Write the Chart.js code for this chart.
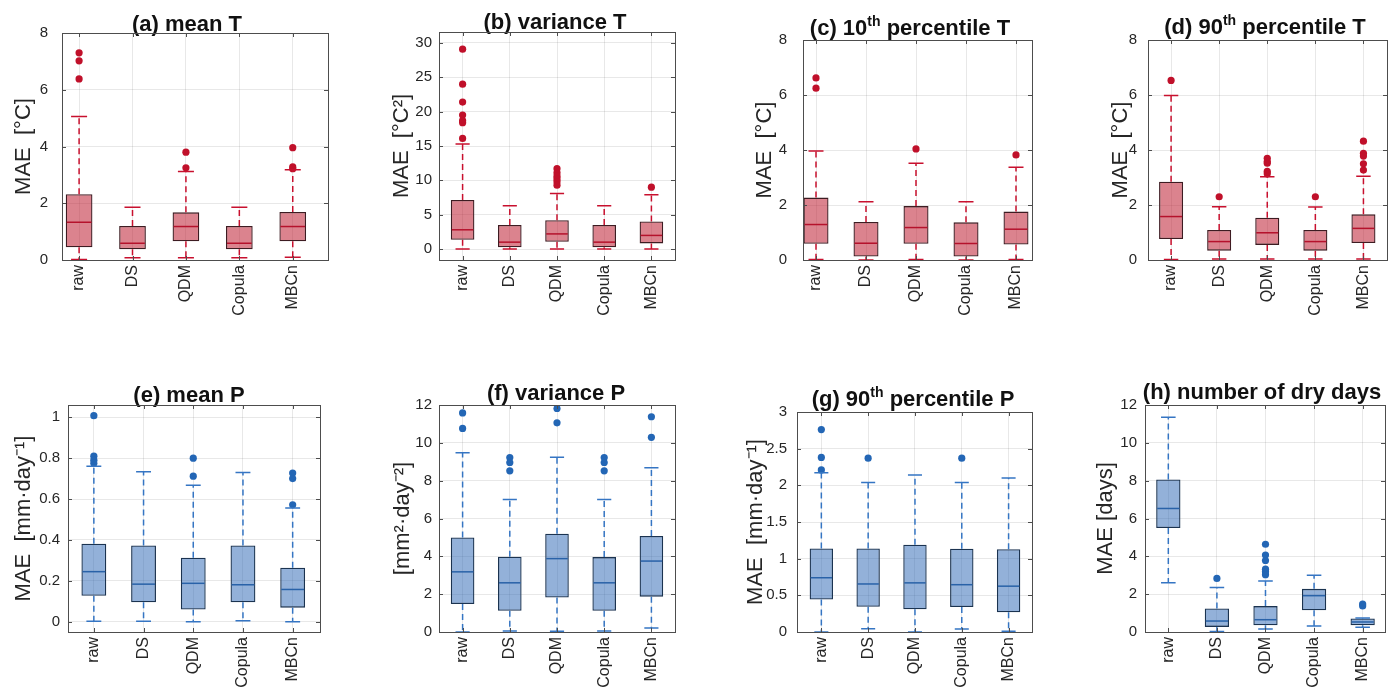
<!DOCTYPE html>
<html>
<head>
<meta charset="utf-8">
<title>MAE of bias-corrected statistics</title>
<script src="https://cdn.jsdelivr.net/npm/chart.js@4"></script>
<style>
  body { margin: 0; background: #fff; width: 1400px; height: 689px; position: relative; overflow: hidden; }
  canvas { position: absolute; }
</style>
</head>
<body>
<script>
// Methods on the x axis of every panel
var methods = ['raw', 'DS', 'QDM', 'Copula', 'MBCn'];
var xTicks = [1, 2, 3, 4, 5];

// (a) mean T : whisker ends, quartiles, medians and outliers
var meanT_lo  = [0.02, 0.08, 0.08, 0.08, 0.10];
var meanT_q1  = [0.45, 0.38, 0.66, 0.38, 0.66];
var meanT_med = [1.33, 0.59, 1.18, 0.59, 1.18];
var meanT_q3  = [2.32, 1.20, 1.68, 1.20, 1.69];
var meanT_hi  = [5.06, 1.86, 3.12, 1.86, 3.18];
var meanT_out = [[7.30, 7.02, 6.38], [], [3.80, 3.25], [], [3.96, 3.28, 3.22]];
var meanT_ticks = [0, 2, 4, 6, 8];

// (b) variance T
var varT_lo  = [0, 0, 0, 0, 0];
var varT_q1  = [1.35, 0.25, 1.06, 0.25, 0.82];
var varT_med = [2.8, 1.0, 2.2, 1.0, 1.98];
var varT_q3  = [7.15, 3.5, 4.2, 3.5, 4.0];
var varT_hi  = [15.3, 6.3, 8.1, 6.3, 7.9];
var varT_out = [[29.1, 24.0, 21.4, 19.5, 18.7, 18.4, 16.1], [], [11.7, 11.1, 10.6, 10.2, 9.8, 9.3], [], [9.0]];
var varT_ticks = [0, 5, 10, 15, 20, 25, 30];

// (c) 10th percentile T
var p10T_lo  = [0.02, 0.0, 0.02, 0.0, 0.02];
var p10T_q1  = [0.59, 0.13, 0.59, 0.13, 0.56];
var p10T_med = [1.29, 0.61, 1.18, 0.60, 1.12];
var p10T_q3  = [2.27, 1.38, 1.96, 1.37, 1.76];
var p10T_hi  = [3.96, 2.12, 3.52, 2.12, 3.37];
var p10T_out = [[6.62, 6.25], [], [4.04], [], [3.82]];
var p10T_ticks = [0, 2, 4, 6, 8];

// (d) 90th percentile T
var p90T_lo  = [0.02, 0.04, 0.04, 0.04, 0.04];
var p90T_q1  = [0.76, 0.34, 0.55, 0.34, 0.62];
var p90T_med = [1.58, 0.67, 0.99, 0.67, 1.15];
var p90T_q3  = [2.85, 1.09, 1.54, 1.09, 1.66];
var p90T_hi  = [5.98, 1.94, 3.03, 1.93, 3.05];
var p90T_out = [[6.53], [2.30], [3.70, 3.58, 3.52, 3.22, 3.14], [2.30], [4.32, 3.88, 3.78, 3.50, 3.27]];
var p90T_ticks = [0, 2, 4, 6, 8];

// (e) mean P
var meanP_lo  = [0.003, 0.003, 0.0, 0.005, 0.0];
var meanP_q1  = [0.127, 0.095, 0.06, 0.095, 0.069];
var meanP_med = [0.245, 0.184, 0.188, 0.181, 0.158];
var meanP_q3  = [0.382, 0.373, 0.313, 0.373, 0.264];
var meanP_hi  = [0.76, 0.734, 0.668, 0.73, 0.556];
var meanP_out = [[1.008, 0.81, 0.79, 0.775], [], [0.80, 0.712], [], [0.727, 0.70, 0.572]];
var meanP_ticks = [0, 0.2, 0.4, 0.6, 0.8, 1];

// (f) variance P
var varP_lo  = [0, 0.05, 0.04, 0.05, 0.21];
var varP_q1  = [1.48, 1.12, 1.82, 1.12, 1.87];
var varP_med = [3.18, 2.6, 3.88, 2.6, 3.75];
var varP_q3  = [5.0, 3.98, 5.2, 3.96, 5.08];
var varP_hi  = [9.48, 7.0, 9.24, 7.0, 8.68];
var varP_out = [[11.58, 10.76], [9.22, 8.96, 8.52], [11.82, 11.06], [9.22, 8.96, 8.52], [11.38, 10.29]];
var varP_ticks = [0, 2, 4, 6, 8, 10, 12];

// (g) 90th percentile P
var p90P_lo  = [0.0, 0.045, 0.0, 0.04, 0.01];
var p90P_q1  = [0.443, 0.345, 0.31, 0.34, 0.27];
var p90P_med = [0.74, 0.655, 0.67, 0.645, 0.625];
var p90P_q3  = [1.14, 1.14, 1.19, 1.135, 1.13];
var p90P_hi  = [2.17, 2.04, 2.14, 2.04, 2.1];
var p90P_out = [[2.76, 2.38, 2.21], [2.37], [], [2.37], []];
var p90P_ticks = [0, 0.5, 1, 1.5, 2, 2.5, 3];

// (h) number of dry days
var dry_lo  = [2.61, 0.02, 0.16, 0.32, 0.25];
var dry_q1  = [5.5, 0.27, 0.36, 1.15, 0.36];
var dry_med = [6.53, 0.58, 0.65, 1.92, 0.53];
var dry_q3  = [8.06, 1.24, 1.37, 2.28, 0.72];
var dry_hi  = [11.35, 2.35, 2.7, 3.0, 0.74];
var dry_out = [[], [2.83], [4.64, 4.07, 3.78, 3.32, 3.18, 3.03], [], [1.48, 1.38]];
var dry_ticks = [0, 2, 4, 6, 8, 10, 12];

var FONT = '"Liberation Sans", Arial, Helvetica, sans-serif';
var INK = '#262626';
var GRID = 'rgba(0,0,0,0.09)';
var CELL_W = 350, CELL_H = 344;

var redTheme  = { fill: 'rgba(190,30,50,0.55)', edge: '#3d1c22', median: '#b5122c', whisker: '#c8102e', dot: '#c0102a' };
var blueTheme = { fill: 'rgba(40,100,180,0.5)', edge: '#1b3350', median: '#2962a8', whisker: '#3575c3', dot: '#2366b5' };

Chart.defaults.font.family = FONT;
Chart.defaults.color = INK;

// panel title with optional superscript pieces
var panelTitle = {
  id: 'panelTitle',
  afterDraw: function (chart, args, opts) {
    var ctx = chart.ctx;
    var big = 'bold 22px ' + FONT, small = 'bold 14px ' + FONT;
    ctx.save();
    var total = 0;
    opts.parts.forEach(function (p) {
      ctx.font = p[1] ? small : big;
      total += ctx.measureText(p[0]).width;
    });
    var x = opts.x - total / 2;
    ctx.fillStyle = '#111';
    ctx.textBaseline = 'alphabetic';
    ctx.textAlign = 'left';
    opts.parts.forEach(function (p) {
      ctx.font = p[1] ? small : big;
      ctx.fillText(p[0], x, opts.y - (p[1] ? 9 : 0));
      x += ctx.measureText(p[0]).width;
    });
    ctx.restore();
  }
};

// whiskers, caps and medians on top of the floating-bar boxes
var boxWhiskers = {
  id: 'boxWhiskers',
  afterDatasetsDraw: function (chart, args, opts) {
    var ctx = chart.ctx, xs = chart.scales.x, ys = chart.scales.y;
    var unit = xs.getPixelForValue(2) - xs.getPixelForValue(1);
    var capHalf = unit * 0.15, boxHalf = unit * 0.25;
    ctx.save();
    ctx.lineWidth = 1.5;
    xTicks.forEach(function (xv, i) {
      var x = xs.getPixelForValue(xv);
      var lo = ys.getPixelForValue(opts.lo[i]), q1 = ys.getPixelForValue(opts.q1[i]);
      var q3 = ys.getPixelForValue(opts.q3[i]), hi = ys.getPixelForValue(opts.hi[i]);
      var md = ys.getPixelForValue(opts.med[i]);
      ctx.strokeStyle = opts.theme.whisker;
      ctx.setLineDash([6, 4]);
      ctx.beginPath();
      ctx.moveTo(x, q1); ctx.lineTo(x, lo);
      ctx.moveTo(x, q3); ctx.lineTo(x, hi);
      ctx.stroke();
      ctx.setLineDash([]);
      ctx.beginPath();
      ctx.moveTo(x - capHalf, lo); ctx.lineTo(x + capHalf, lo);
      ctx.moveTo(x - capHalf, hi); ctx.lineTo(x + capHalf, hi);
      ctx.stroke();
      ctx.strokeStyle = opts.theme.median;
      ctx.beginPath();
      ctx.moveTo(x - boxHalf + 1, md); ctx.lineTo(x + boxHalf - 1, md);
      ctx.stroke();
    });
    ctx.restore();
  }
};

// closed axes box with inward tick marks
var axesFrame = {
  id: 'axesFrame',
  afterDraw: function (chart) {
    var ctx = chart.ctx, a = chart.chartArea;
    var xs = chart.scales.x, ys = chart.scales.y;
    ctx.save();
    ctx.strokeStyle = '#4d4d4d';
    ctx.lineWidth = 1;
    ctx.strokeRect(Math.round(a.left) + 0.5, Math.round(a.top) + 0.5,
                   Math.round(a.right - a.left), Math.round(a.bottom - a.top));
    ctx.beginPath();
    ys.ticks.forEach(function (t) {
      var y = Math.round(ys.getPixelForValue(t.value)) + 0.5;
      ctx.moveTo(a.left, y); ctx.lineTo(a.left + 4, y);
      ctx.moveTo(a.right, y); ctx.lineTo(a.right - 4, y);
    });
    xs.ticks.forEach(function (t) {
      var x = Math.round(xs.getPixelForValue(t.value)) + 0.5;
      ctx.moveTo(x, a.bottom); ctx.lineTo(x, a.bottom - 4);
      ctx.moveTo(x, a.top); ctx.lineTo(x, a.top + 4);
    });
    ctx.stroke();
    ctx.restore();
  }
};

var panels = [
  { col: 0, row: 0, theme: redTheme, lo: meanT_lo, q1: meanT_q1, med: meanT_med, q3: meanT_q3, hi: meanT_hi, out: meanT_out,
    yTicks: meanT_ticks, yMin: 0, yMax: 8, xMin: 0.68, xMax: 5.66, plot: [62, 33, 328, 260],
    title: [['(a) mean T', false]], titleX: 187, titleY: 31, yLabel: 'MAE  [°C]', labelX: 24, tickPad: 14 },
  { col: 1, row: 0, theme: redTheme, lo: varT_lo, q1: varT_q1, med: varT_med, q3: varT_q3, hi: varT_hi, out: varT_out,
    yTicks: varT_ticks, yMin: -1.6, yMax: 31.6, xMin: 0.5, xMax: 5.5, plot: [89, 32, 325, 260],
    title: [['(b) variance T', false]], titleX: 205, titleY: 29, yLabel: 'MAE  [°C²]', labelX: 52, tickPad: 7 },
  { col: 2, row: 0, theme: redTheme, lo: p10T_lo, q1: p10T_q1, med: p10T_med, q3: p10T_q3, hi: p10T_hi, out: p10T_out,
    yTicks: p10T_ticks, yMin: 0, yMax: 8, xMin: 0.74, xMax: 5.32, plot: [103, 40, 332, 260],
    title: [['(c) 10', false], ['th', true], [' percentile T', false]], titleX: 210, titleY: 35, yLabel: 'MAE  [°C]', labelX: 65, tickPad: 16 },
  { col: 3, row: 0, theme: redTheme, lo: p90T_lo, q1: p90T_q1, med: p90T_med, q3: p90T_q3, hi: p90T_hi, out: p90T_out,
    yTicks: p90T_ticks, yMin: 0, yMax: 8, xMin: 0.52, xMax: 5.49, plot: [98, 40, 337, 260],
    title: [['(d) 90', false], ['th', true], [' percentile T', false]], titleX: 215, titleY: 34, yLabel: 'MAE  [°C]', labelX: 71, tickPad: 11 },
  { col: 0, row: 1, theme: blueTheme, lo: meanP_lo, q1: meanP_q1, med: meanP_med, q3: meanP_q3, hi: meanP_hi, out: meanP_out,
    yTicks: meanP_ticks, yMin: -0.05, yMax: 1.06, xMin: 0.48, xMax: 5.55, plot: [68, 60, 320, 287],
    title: [['(e) mean P', false]], titleX: 189, titleY: 57, yLabel: 'MAE  [mm·day⁻¹]', labelX: 24, tickPad: 8 },
  { col: 1, row: 1, theme: blueTheme, lo: varP_lo, q1: varP_q1, med: varP_med, q3: varP_q3, hi: varP_hi, out: varP_out,
    yTicks: varP_ticks, yMin: 0, yMax: 12, xMin: 0.5, xMax: 5.5, plot: [89, 60, 325, 287],
    title: [['(f) variance P', false]], titleX: 206, titleY: 55, yLabel: '[mm²·day⁻²]', labelX: 53, tickPad: 7 },
  { col: 2, row: 1, theme: blueTheme, lo: p90P_lo, q1: p90P_q1, med: p90P_med, q3: p90P_q3, hi: p90P_hi, out: p90P_out,
    yTicks: p90P_ticks, yMin: 0, yMax: 3, xMin: 0.48, xMax: 5.5, plot: [97, 67, 332, 287],
    title: [['(g) 90', false], ['th', true], [' percentile P', false]], titleX: 213, titleY: 61, yLabel: 'MAE  [mm·day⁻¹]', labelX: 56, tickPad: 10 },
  { col: 3, row: 1, theme: blueTheme, lo: dry_lo, q1: dry_q1, med: dry_med, q3: dry_q3, hi: dry_hi, out: dry_out,
    yTicks: dry_ticks, yMin: 0, yMax: 12, xMin: 0.52, xMax: 5.46, plot: [95, 60, 335, 287],
    title: [['(h) number of dry days', false]], titleX: 212, titleY: 54, yLabel: 'MAE [days]', labelX: 56, tickPad: 8 }
];

function makePanel(p) {
  var cv = document.createElement('canvas');
  cv.width = CELL_W; cv.height = CELL_H;
  cv.style.left = (p.col * 350) + 'px';
  cv.style.top = (p.row * 345) + 'px';
  document.body.appendChild(cv);

  var boxes = xTicks.map(function (x, i) { return { x: x, y: [p.q1[i], p.q3[i]] }; });
  var dots = [];
  p.out.forEach(function (list, i) {
    list.forEach(function (v) { dots.push({ x: xTicks[i], y: v }); });
  });

  return new Chart(cv, {
    type: 'bar',
    data: {
      datasets: [
        { data: boxes, backgroundColor: p.theme.fill, borderColor: p.theme.edge, borderWidth: 1.3,
          borderSkipped: false, barPercentage: 0.5, categoryPercentage: 1 },
        { type: 'scatter', data: dots, showLine: false, pointRadius: 3.6, pointHoverRadius: 3.6,
          pointBackgroundColor: p.theme.dot, pointBorderWidth: 0 }
      ]
    },
    options: {
      responsive: false,
      animation: false,
      devicePixelRatio: 1,
      layout: { padding: { left: 0, top: p.plot[1], right: CELL_W - p.plot[2], bottom: 0 } },
      plugins: {
        legend: { display: false },
        tooltip: { enabled: false },
        panelTitle: { parts: p.title, x: p.titleX, y: p.titleY },
        boxWhiskers: { lo: p.lo, q1: p.q1, med: p.med, q3: p.q3, hi: p.hi, theme: p.theme }
      },
      scales: {
        x: {
          type: 'linear', min: p.xMin, max: p.xMax, offset: false,
          grid: { color: GRID, drawTicks: false, offset: false },
          border: { display: false },
          afterBuildTicks: function (s) { s.ticks = xTicks.map(function (v) { return { value: v }; }); },
          afterFit: function (s) { s.height = CELL_H - p.plot[3]; },
          ticks: {
            autoSkip: false, minRotation: 90, maxRotation: 90, padding: 5,
            font: { size: 16 }, color: INK,
            callback: function (v) { return methods[Math.round(v) - 1]; }
          }
        },
        y: {
          min: p.yMin, max: p.yMax,
          grid: { color: GRID, drawTicks: false },
          border: { display: false },
          afterBuildTicks: function (s) { s.ticks = p.yTicks.map(function (v) { return { value: v }; }); },
          afterFit: function (s) { s.width = p.plot[0]; },
          ticks: { padding: p.tickPad, font: { size: 15 }, color: INK,
                   callback: function (v) { return String(v); } },
          title: { display: true, text: p.yLabel, color: INK, font: { size: 22, lineHeight: 1 },
                   padding: { top: p.labelX - 11, bottom: 0 } }
        }
      }
    },
    plugins: [panelTitle, boxWhiskers, axesFrame]
  });
}

panels.forEach(makePanel);
</script>
</body>
</html>
